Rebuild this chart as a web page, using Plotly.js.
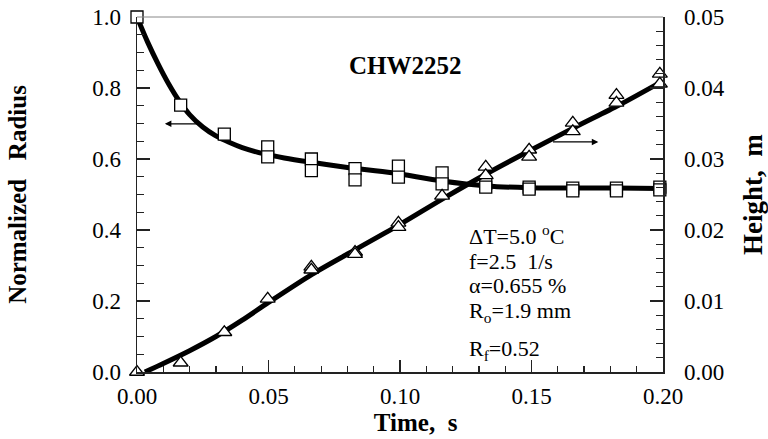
<!DOCTYPE html>
<html>
<head>
<meta charset="utf-8">
<script src="https://cdn.plot.ly/plotly-3.0.1.min.js"></script>
<style>html,body{margin:0;padding:0;background:#fff;}#chart{width:768px;height:439px;}</style>
</head>
<body>
<div id="chart"></div>
<script>
// Measured data: time (s)
const timeR = [0, 0.0166, 0.0332, 0.0497, 0.0497, 0.0663, 0.0663, 0.0829, 0.0829, 0.0994, 0.0994, 0.116, 0.116, 0.1326, 0.1326, 0.1491, 0.1491, 0.1657, 0.1657, 0.1823, 0.1823, 0.1988, 0.1988];
const radius = [1.0, 0.752, 0.670, 0.634, 0.606, 0.600, 0.567, 0.573, 0.541, 0.580, 0.549, 0.561, 0.530, 0.532, 0.521, 0.521, 0.515, 0.518, 0.510, 0.518, 0.510, 0.521, 0.513];
const timeH = [0, 0.0166, 0.0332, 0.0497, 0.0663, 0.0663, 0.0829, 0.0829, 0.0994, 0.0994, 0.116, 0.1326, 0.1326, 0.1491, 0.1491, 0.1657, 0.1657, 0.1823, 0.1823, 0.1988, 0.1988];
const height = [0, 0.0013, 0.0056, 0.0103, 0.0148, 0.0144, 0.0169, 0.0166, 0.0210, 0.0204, 0.0248, 0.0289, 0.0277, 0.0313, 0.0303, 0.0351, 0.0339, 0.0390, 0.0379, 0.0420, 0.0406];
// Fitted curves
const fitTimeR = [0, 0.004, 0.008, 0.012, 0.016, 0.020, 0.025, 0.030, 0.035, 0.040, 0.048, 0.056, 0.065, 0.080, 0.097, 0.116, 0.133, 0.149, 0.166, 0.182, 0.199];
const fitRadius = [1.0, 0.930, 0.868, 0.812, 0.764, 0.725, 0.690, 0.665, 0.647, 0.632, 0.615, 0.603, 0.592, 0.576, 0.561, 0.538, 0.524, 0.519, 0.518, 0.518, 0.517];
const fitTimeH = [0.003, 0.01, 0.02, 0.03, 0.04, 0.05, 0.0667, 0.0833, 0.1, 0.1167, 0.1333, 0.15, 0.1667, 0.1833, 0.199];
const fitHeight = [0, 0.0012, 0.0030, 0.0050, 0.0073, 0.0098, 0.0138, 0.0173, 0.0208, 0.0245, 0.0280, 0.0313, 0.0345, 0.0376, 0.0408];
const labelLines = ["ΔT=5.0 <sup>o</sup>C", "f=2.5\u00a0 1/s", "α=0.655 %", "R<sub>o</sub>=1.9 mm", "R<sub>f</sub>=0.52"];
const labelY = [0.385, 0.310, 0.245, 0.168, 0.063];

const serif = "Liberation Serif, Times New Roman, serif";
const traces = [
  {x: fitTimeR, y: fitRadius, mode: 'lines', line: {color: '#000', width: 5, shape: 'spline', smoothing: 0.8}, yaxis: 'y', showlegend: false, hoverinfo: 'skip'},
  {x: fitTimeH, y: fitHeight, mode: 'lines', line: {color: '#000', width: 5, shape: 'spline', smoothing: 0.8}, yaxis: 'y2', showlegend: false, hoverinfo: 'skip'},
  {x: timeR, y: radius, mode: 'markers', marker: {symbol: 'square', size: 12, color: '#fff', line: {color: '#000', width: 1.3}}, yaxis: 'y', cliponaxis: false, showlegend: false},
  {x: timeH, y: height, mode: 'markers', marker: {symbol: 'triangle-up', size: 13, color: '#fff', line: {color: '#000', width: 1.3}}, yaxis: 'y2', cliponaxis: false, showlegend: false}
];

const annotations = [
  {xref: 'paper', yref: 'paper', x: 0.511, y: 0.907, text: '<b>CHW2252</b>', showarrow: false, font: {family: serif, size: 25, color: '#000'}},
  {xref: 'x', yref: 'y', axref: 'x', ayref: 'y', x: 0.0106, y: 0.699, ax: 0.0239, ay: 0.699, text: '', showarrow: true, arrowhead: 2, arrowsize: 1, arrowwidth: 1.3, arrowcolor: '#000'},
  {xref: 'x', yref: 'y2', axref: 'x', ayref: 'y2', x: 0.1754, y: 0.0324, ax: 0.1576, ay: 0.0324, text: '', showarrow: true, arrowhead: 2, arrowsize: 1, arrowwidth: 1.3, arrowcolor: '#000'}
];
labelLines.forEach((t, i) => annotations.push({xref: 'x', yref: 'y', x: 0.1254, y: labelY[i], xanchor: 'left', yanchor: 'middle', text: t, showarrow: false, font: {family: serif, size: 22, color: '#000'}}));

const tickFont = {family: serif, size: 23, color: '#000'};
const titleFont = {family: serif, size: 25, color: '#000'};
const layout = {
  width: 768, height: 439,
  margin: {l: 137, r: 105, t: 17, b: 67},
  paper_bgcolor: '#fff', plot_bgcolor: '#fff',
  showlegend: false,
  xaxis: {range: [0, 0.2], dtick: 0.05, tick0: 0, tickformat: '.2f', ticks: 'inside', ticklen: 12, tickwidth: 1.2, tickcolor: '#222',
    minor: {dtick: 0.01, ticks: 'inside', ticklen: 6, tickwidth: 1.2, tickcolor: '#222'},
    showline: true, linecolor: '#222', linewidth: 1.5, showgrid: false, zeroline: false, tickfont: tickFont, ticklabelstandoff: 3,
    title: {text: '<b>\u00a0\u00a0\u00a0\u00a0\u00a0Time,\u00a0\u00a0s</b>', font: titleFont, standoff: 5}},
  yaxis: {range: [0, 1], dtick: 0.2, tick0: 0, tickformat: '.1f', ticks: 'inside', ticklen: 13, tickwidth: 1.2, tickcolor: '#222',
    minor: {dtick: 0.05, ticks: 'inside', ticklen: 7, tickwidth: 1.2, tickcolor: '#222'},
    showline: true, linecolor: '#222', linewidth: 1.5, showgrid: false, zeroline: false, tickfont: tickFont, ticklabelstandoff: 10,
    title: {text: '<b>Normalized\u00a0\u00a0 Radius</b>', font: titleFont, standoff: 58}},
  yaxis2: {range: [0, 0.05], dtick: 0.01, tick0: 0, tickformat: '.2f', overlaying: 'y', side: 'right', ticks: 'inside', ticklen: 13, tickwidth: 1.2, tickcolor: '#222',
    minor: {dtick: 0.002, ticks: 'inside', ticklen: 7, tickwidth: 1.2, tickcolor: '#222'},
    showline: true, linecolor: '#222', linewidth: 1.5, showgrid: false, zeroline: false, tickfont: tickFont, ticklabelstandoff: 15,
    title: {text: '<b>Height,\u00a0 m</b>', font: {family: serif, size: 27, color: '#000'}, standoff: 19}},
  shapes: [{type: 'line', xref: 'paper', yref: 'paper', x0: 0, x1: 1, y0: 1, y1: 1, line: {color: '#888', width: 1}}],
  annotations: annotations
};
Plotly.newPlot('chart', traces, layout, {staticPlot: true, displayModeBar: false});
</script>
</body>
</html>
